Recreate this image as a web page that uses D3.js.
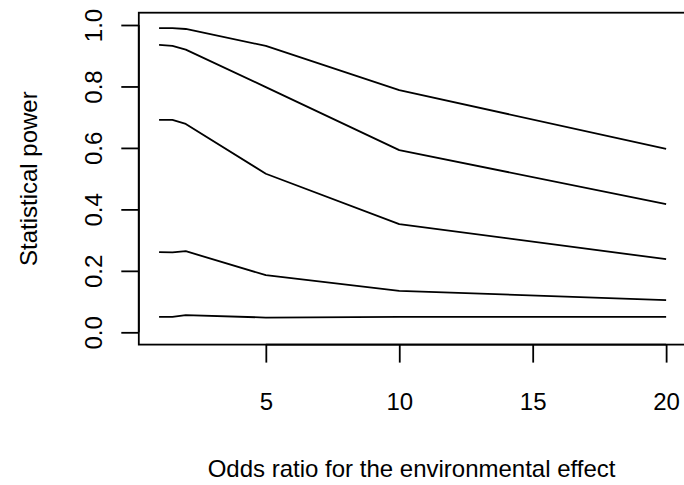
<!DOCTYPE html>
<html><head><meta charset="utf-8">
<script src="https://cdn.jsdelivr.net/npm/d3@7"></script>
<style>body{margin:0;background:#fff}svg{display:block}text{font-family:"Liberation Sans",Arial,Helvetica,sans-serif;fill:#000}</style>
</head><body>
<script>
const oddsRatios = [1, 1.5, 2, 5, 10, 20];
const power1 = [0.990, 0.990, 0.987, 0.932, 0.788, 0.597];
const power2 = [0.935, 0.932, 0.920, 0.798, 0.593, 0.417];
const power3 = [0.691, 0.691, 0.678, 0.516, 0.352, 0.238];
const power4 = [0.261, 0.260, 0.264, 0.186, 0.135, 0.105];
const power5 = [0.050, 0.050, 0.056, 0.048, 0.050, 0.050];
const xTicks = [5, 10, 15, 20];
const yTicks = [0, 0.2, 0.4, 0.6, 0.8, 1.0];
const xLabel = "Odds ratio for the environmental effect";
const yLabel = "Statistical power";

const W = 684, H = 485;
const svg = d3.select("body").append("svg").attr("width", W).attr("height", H);
const x = d3.scaleLinear().domain([0.24, 20.76]).range([138.8, 686.4]);
const y = d3.scaleLinear().domain([-0.04, 1.04]).range([344.6, 12.7]);
const sw = 1.8;

const series = [power1, power2, power3, power4, power5];
const line = d3.line().x((d, i) => x(oddsRatios[i])).y(d => y(d));
svg.selectAll("path.s").data(series).enter().append("path")
  .attr("class", "s").attr("d", line)
  .attr("fill", "none").attr("stroke", "#000").attr("stroke-width", sw)
  .attr("stroke-linejoin", "round");

// box
svg.append("rect").attr("x", x.range()[0]).attr("y", y.range()[1])
  .attr("width", x.range()[1] - x.range()[0]).attr("height", y.range()[0] - y.range()[1])
  .attr("fill", "none").attr("stroke", "#000").attr("stroke-width", sw);

// x axis
const xAxis = d3.axisBottom(x).tickValues(xTicks).tickSize(18).tickPadding(30).tickFormat(d3.format("d"));
const gx = svg.append("g").attr("transform", `translate(0,${y.range()[0]})`).call(xAxis);
gx.select(".domain").attr("d", `M${x(xTicks[0])},0H${x(xTicks[xTicks.length-1])}`).attr("stroke-width", sw);
gx.selectAll(".tick line").attr("stroke-width", sw);
gx.selectAll("text").attr("font-size", 24).attr("font-family", '"Liberation Sans",Arial,sans-serif');

// y axis
const yAxis = d3.axisLeft(y).tickValues(yTicks).tickSize(17.5).tickFormat(d3.format(".1f"));
const gy = svg.append("g").attr("transform", `translate(${x.range()[0]},0)`).call(yAxis);
gy.select(".domain").attr("d", `M0,${y(yTicks[0])}V${y(yTicks[yTicks.length-1])}`).attr("stroke-width", sw);
gy.selectAll(".tick line").attr("stroke-width", sw);
gy.selectAll(".tick text").remove();
gy.selectAll(".tick").append("text")
  .attr("transform", "translate(-37,0) rotate(-90)")
  .attr("text-anchor", "middle").attr("dy", 0)
  .attr("font-size", 24).attr("fill", "#000")
  .attr("font-family", '"Liberation Sans",Arial,sans-serif')
  .text(d => d3.format(".1f")(d));

// axis titles
svg.append("text").attr("x", (x.range()[0] + x.range()[1]) / 2 - 1).attr("y", 477)
  .attr("text-anchor", "middle").attr("font-size", 24).text(xLabel);
svg.append("text").attr("transform", `translate(36.5,${(y.range()[0] + y.range()[1]) / 2}) rotate(-90)`)
  .attr("text-anchor", "middle").attr("font-size", 24).text(yLabel);
</script>
</body></html>
